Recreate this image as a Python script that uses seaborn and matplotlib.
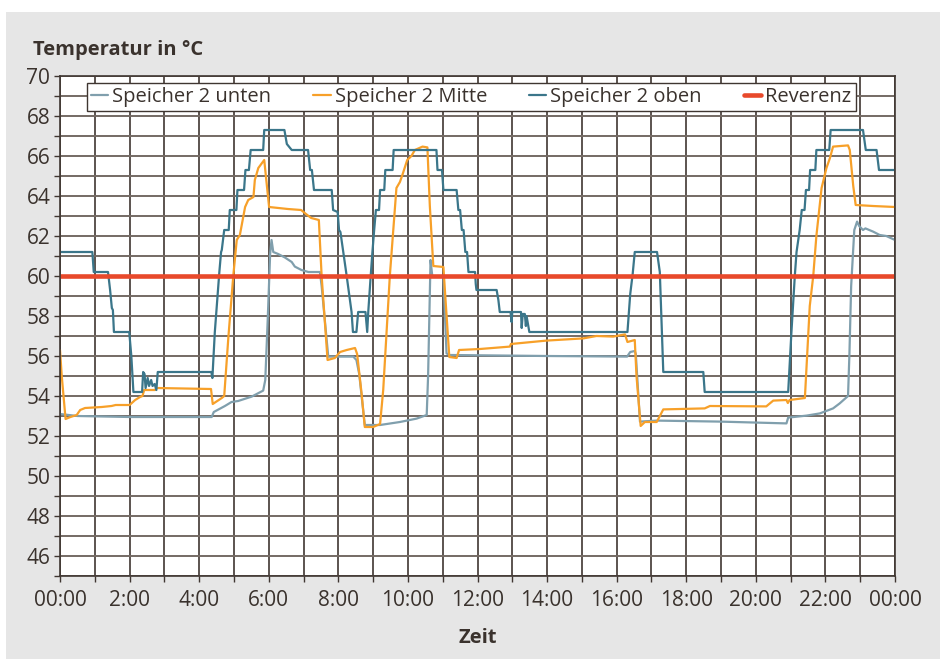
import numpy as np
import pandas as pd
import seaborn as sns
import matplotlib.pyplot as plt
from matplotlib.patches import Rectangle
from matplotlib.ticker import MultipleLocator, FixedLocator

unten_h = [0, 0.5, 2.0, 3.0, 4.36, 4.42, 4.74, 4.93, 5.12, 5.51, 5.84, 5.9, 5.97, 6.04, 6.08, 6.13,
           6.27, 6.46, 6.66, 6.75, 6.94, 7.14, 7.47, 7.52, 7.71, 8.43, 8.52, 8.6, 8.76, 9.2, 9.77,
           10.25, 10.54, 10.58, 10.65, 10.7, 11.02, 11.11, 11.2, 14.0, 16.3, 16.39, 16.52, 16.55,
           16.67, 17.15, 18.97, 20.88, 20.93, 21.46, 21.84, 22.22, 22.41, 22.65, 22.69, 22.74,
           22.83, 22.91, 22.97, 23.08, 23.15, 23.37, 23.56, 23.75, 24.0]
unten_t = [53.1, 53.0, 52.95, 52.95, 52.95, 53.2, 53.5, 53.7, 53.75, 53.97, 54.27, 54.8, 57.8, 61.1, 61.8, 61.2,
           61.1, 60.93, 60.7, 60.47, 60.3, 60.2, 60.2, 59.5, 55.97, 55.97, 55.8, 55.1, 52.55, 52.55, 52.7,
           52.87, 53.05, 55.0, 60.8, 60.0, 59.97, 56.13, 56.05, 56.0, 55.97, 56.2, 56.25, 56.1,
           52.72, 52.77, 52.72, 52.63, 52.92, 53.02, 53.13, 53.38, 53.63, 54.0, 56.1, 59.5,
           62.3, 62.72, 62.5, 62.3, 62.38, 62.22, 62.05, 62.0, 61.8]

mitte_h = [0, 0.05, 0.16, 0.3, 0.48, 0.58, 0.72, 1.2, 1.48, 1.6, 2.0, 2.16, 2.3, 2.37, 2.42, 2.73, 2.78,
           4.34, 4.39, 4.65, 4.72, 4.84, 4.98, 5.08, 5.17, 5.32, 5.41, 5.56, 5.6, 5.7, 5.87, 6.01,
           6.55, 6.93, 7.07, 7.22, 7.44, 7.52, 7.69, 7.9, 8.05, 8.24, 8.48, 8.54, 8.67, 8.76, 9.0,
           9.2, 9.29, 9.48, 9.67, 9.77, 9.85, 9.98, 10.1, 10.2, 10.42, 10.56, 10.63, 10.73, 11.02,
           11.07, 11.19, 11.4, 11.47, 12.07, 12.93, 12.96, 13.98, 15.04, 15.42, 15.9, 16.24, 16.31,
           16.52, 16.57, 16.69, 16.81, 17.15, 17.34, 18.53, 18.68, 20.3, 20.5, 20.88, 20.92, 20.97,
           21.41, 21.55, 21.65, 21.74, 21.89, 22.03, 22.13, 22.22, 22.65, 22.7, 22.8, 22.87, 23.37, 24.0]
mitte_t = [56.3, 55.0, 52.85, 52.95, 53.05, 53.3, 53.4, 53.45, 53.5, 53.55, 53.55, 53.8, 53.95, 54.0, 54.3, 54.3, 54.4,
           54.35, 53.6, 53.9, 54.0, 56.95, 60.0, 61.8, 62.05, 63.45, 63.8, 63.95, 64.8, 65.4, 65.8, 63.45,
           63.35, 63.3, 63.1, 62.9, 62.8, 60.0, 55.8, 55.9, 56.2, 56.3, 56.4, 56.1, 54.1, 52.45, 52.45,
           52.6, 54.3, 60.0, 64.4, 64.7, 65.1, 65.8, 66.0, 66.3, 66.47, 66.43, 63.5, 60.5, 60.45,
           59.1, 55.95, 55.9, 56.3, 56.35, 56.47, 56.6, 56.77, 56.88, 57.0, 56.97, 57.08, 56.7,
           56.8, 55.0, 52.5, 52.7, 52.7, 53.33, 53.38, 53.5, 53.48, 53.77, 53.8, 53.65, 53.8,
           53.9, 58.5, 60.0, 62.0, 64.4, 65.4, 65.9, 66.47, 66.53, 66.3, 64.5, 63.55, 63.5, 63.45]

oben_h = [0, 0.93, 0.97, 1.38, 1.44, 1.49, 1.52, 1.55, 1.99, 2.05, 2.11, 2.36, 2.39, 2.43, 2.46, 2.52,
          2.56, 2.62, 2.66, 2.72, 2.77, 2.81, 4.35, 4.38, 4.45, 4.58, 4.63, 4.65, 4.72, 4.85, 4.88, 5.07,
          5.10, 5.29, 5.33, 5.43, 5.48, 5.84, 5.87, 6.45, 6.52, 6.66, 7.13, 7.19, 7.24, 7.30, 7.81, 7.85,
          7.98, 8.02, 8.06, 8.24, 8.38, 8.42, 8.52, 8.57, 8.78, 8.83, 8.86, 8.93, 8.98, 9.03, 9.08, 9.17,
          9.20, 9.32, 9.35, 9.56, 9.59, 10.82, 10.85, 10.98, 11.02, 11.4, 11.45, 11.5, 11.55, 11.6,
          11.65, 11.7, 11.74, 11.93, 11.95, 11.97, 12.55, 12.6, 12.64, 12.95, 12.98, 13.0, 13.25,
          13.27, 13.3, 13.36, 13.39, 13.41, 13.49, 16.31, 16.39, 16.46, 16.52, 17.16, 17.24, 17.34,
          18.49, 18.53, 20.93, 21.02, 21.12, 21.17, 21.26, 21.32, 21.40, 21.44, 21.53, 21.56, 21.71,
          21.74, 22.11, 22.15, 23.08, 23.16, 23.47, 23.54, 24.0]
oben_t = [61.2, 61.2, 60.2, 60.2, 59.3, 58.4, 58.3, 57.2, 57.2, 56.0, 54.2, 54.2, 55.2, 55.1, 54.4, 54.9,
          54.5, 54.8, 54.5, 54.6, 54.3, 55.2, 55.2, 54.9, 57.2, 60.2, 61.2, 61.3, 62.3, 62.3, 63.3, 63.3,
          64.3, 64.3, 65.3, 65.3, 66.3, 66.3, 67.3, 67.3, 66.6, 66.3, 66.3, 65.3, 65.3, 64.3, 64.3, 63.3,
          63.2, 62.3, 62.2, 60.0, 58.2, 57.2, 57.2, 58.2, 58.2, 57.2, 58.2, 60.0, 61.2, 62.3, 63.3, 63.3,
          64.3, 64.3, 65.3, 65.3, 66.3, 66.3, 65.3, 65.3, 64.3, 64.3, 63.3, 63.3, 62.3, 62.3,
          61.2, 61.2, 60.2, 60.2, 59.6, 59.3, 59.3, 58.8, 58.2, 58.2, 57.7, 58.2, 58.2,
          57.4, 58.1, 58.1, 57.5, 58.0, 57.2, 57.2, 59.1, 60.1, 61.2, 61.2, 60.2, 55.2,
          55.2, 54.2, 54.2, 57.1, 60.0, 61.2, 62.3, 63.3, 63.3, 64.3, 64.3, 65.3, 65.3,
          66.3, 66.3, 67.3, 67.3, 66.3, 66.3, 65.3, 65.3]

ref_h = [0, 24]
ref_t = [60, 60]

serien = ["Speicher 2 unten", "Speicher 2 Mitte", "Speicher 2 oben", "Reverenz"]
farben = ["#809fad", "#f7a029", "#3b768a", "#e8492b"]
breiten = [1.6, 1.6, 1.6, 3.3]

df = pd.concat([
    pd.DataFrame({"Zeit": unten_h, "Temperatur": unten_t, "Serie": serien[0]}),
    pd.DataFrame({"Zeit": mitte_h, "Temperatur": mitte_t, "Serie": serien[1]}),
    pd.DataFrame({"Zeit": oben_h, "Temperatur": oben_t, "Serie": serien[2]}),
    pd.DataFrame({"Zeit": ref_h, "Temperatur": ref_t, "Serie": serien[3]}),
])

sns.set_style("white")
plt.rcParams["font.family"] = ["Open Sans", "DejaVu Sans"]
textfarbe = "#3a322d"

fig = plt.figure(figsize=(9.4, 6.59), dpi=100, facecolor="white")
fig.patches.append(Rectangle((6 / 940, 0), 1, 1 - 12 / 659, transform=fig.transFigure,
                             facecolor="#e6e6e6", edgecolor="none", zorder=-10))
ax = fig.add_axes([60 / 940, 1 - 576 / 659, 835 / 940, 500 / 659])
ax.set_facecolor("white")

for serie, farbe, lw in zip(serien, farben, breiten):
    sns.lineplot(data=df[df["Serie"] == serie], x="Zeit", y="Temperatur", ax=ax,
                 color=farbe, linewidth=lw, label=serie, estimator=None, sort=False)

ax.set_xlim(0, 24)
ax.set_ylim(45, 70)
ax.xaxis.set_major_locator(MultipleLocator(2))
ax.xaxis.set_minor_locator(MultipleLocator(1))
ax.yaxis.set_major_locator(FixedLocator(np.arange(46, 71, 2)))
ax.yaxis.set_minor_locator(MultipleLocator(1))
ax.set_xticklabels(["00:00" if h % 24 == 0 else f"{int(h)}:00" for h in ax.get_xticks()])

ax.grid(which="both", axis="x", color="#3f3631", linewidth=1.2)
ax.grid(which="both", axis="y", color="#746a64", linewidth=1.4)
ax.set_axisbelow(True)
for s in ax.spines.values():
    s.set_color("#3f3631")
    s.set_linewidth(1.2)

ax.tick_params(which="both", direction="out", length=4, width=1, color="#3f3631",
               labelsize=15, labelcolor=textfarbe, bottom=True, left=True)
ax.tick_params(axis="y", pad=3)
ax.tick_params(axis="x", pad=6)
ax.set_xlabel("Zeit", fontsize=14.5, fontweight="bold", color=textfarbe, labelpad=12)
ax.set_ylabel("")
fig.text(33 / 940, 1 - 55 / 659, "Temperatur in °C", fontsize=14.5, fontweight="bold",
         color=textfarbe, va="baseline", ha="left")

leg = ax.legend(loc="upper left", bbox_to_anchor=(27 / 835, 493 / 500), ncol=4, fontsize=14.5,
                frameon=True, fancybox=False, framealpha=1, edgecolor="#3f3631",
                handlelength=0.85, handletextpad=0.2, columnspacing=2.1, borderaxespad=0,
                borderpad=0.2)
leg.get_frame().set_linewidth(1.0)
for t in leg.get_texts():
    t.set_color(textfarbe)

fig.savefig("out.png", dpi=100, facecolor=fig.get_facecolor())
